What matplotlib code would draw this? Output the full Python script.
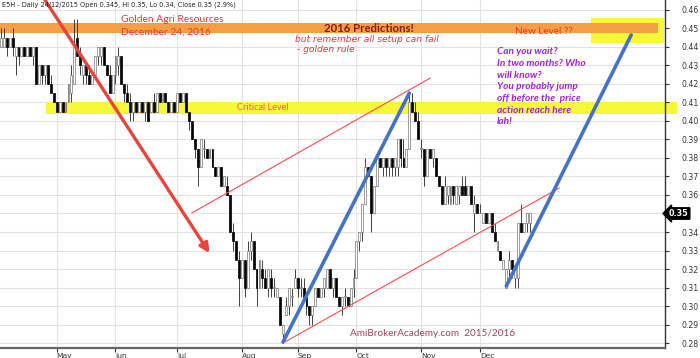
import numpy as np
import pandas as pd
import matplotlib
matplotlib.use("Agg")
import matplotlib.pyplot as plt
from matplotlib.patches import Rectangle

# ---------------- data (prices in cents) ----------------
open_c = [44.0,44.0,44.5,44.0,44.5,43.5,44.0,43.5,44.0,43.5,44.0,43.5,44.0,42.0,43.0,42.5,43.0,42.0,41.5,41.0,
          40.5,41.0,40.5,41.0,41.5,42.0,44.5,43.5,42.5,43.0,42.5,42.0,42.5,43.5,43.5,44.0,43.0,42.5,41.5,42.5,
          43.0,43.5,42.0,41.5,41.0,40.5,41.0,40.5,41.0,40.5,41.0,40.5,41.0,40.5,41.5,41.0,41.5,41.0,40.5,41.0,
          40.5,41.5,41.0,41.5,40.5,40.0,39.0,38.5,37.5,38.5,38.5,38.0,38.5,37.5,37.0,37.5,36.5,36.5,36.0,34.0,
          33.5,32.5,31.5,32.5,31.0,33.0,33.5,32.0,31.0,32.0,31.5,31.0,31.5,31.0,30.5,30.5,28.5,29.5,30.0,30.5,
          31.0,31.5,31.0,31.0,30.5,30.0,29.5,30.0,31.0,30.5,31.0,31.0,32.0,31.0,31.5,30.5,30.0,30.5,30.5,30.0,
          31.0,31.5,33.5,34.0,35.5,37.5,37.0,35.0,36.5,38.0,37.5,38.0,37.5,38.0,37.5,37.5,39.0,38.0,37.5,38.5,
          41.0,40.5,40.0,38.5,38.5,37.0,38.5,38.0,38.0,37.0,36.5,35.5,36.0,35.5,36.5,35.5,36.0,36.5,36.5,36.0,
          36.5,35.0,35.5,35.0,34.5,35.0,34.5,35.0,34.0,33.0,33.0,32.0,31.0,32.0,32.5,31.5,31.5,34.5,34.0,34.5,
          34.5]
high_c = [45.0,45.0,44.5,44.5,45.0,44.0,44.0,44.0,44.0,44.0,44.0,44.0,44.0,43.0,43.0,43.0,43.0,42.5,41.5,41.0,
          41.0,41.0,41.0,42.0,43.0,45.5,45.5,44.0,43.0,43.0,43.0,42.5,43.5,44.0,44.0,44.0,43.0,43.0,42.5,43.5,
          44.0,43.5,42.0,42.0,41.5,41.0,41.0,41.0,41.0,41.0,41.0,41.0,41.5,41.5,41.5,41.5,41.5,41.0,41.0,41.0,
          41.5,41.5,41.5,41.5,40.5,40.0,39.0,38.5,39.0,39.0,38.5,38.5,38.5,37.5,37.5,37.5,37.0,37.0,36.0,34.5,
          33.5,33.0,32.5,32.5,33.5,34.0,33.5,32.0,32.5,32.5,32.0,32.0,32.0,31.5,31.0,30.5,29.0,30.5,31.0,31.0,
          32.0,31.5,31.5,31.5,30.5,30.0,30.0,31.0,31.0,31.0,31.5,32.0,32.0,31.5,31.5,30.5,30.5,31.0,30.5,31.0,
          32.0,33.5,34.0,35.5,38.0,37.5,37.0,36.5,38.0,38.0,38.0,38.0,38.0,38.0,38.0,39.0,39.0,39.0,38.5,41.5,
          41.5,41.0,40.5,39.0,38.5,38.5,38.5,38.5,38.0,37.0,36.5,37.0,36.5,36.5,36.5,36.5,36.5,37.0,37.0,36.5,
          36.5,36.0,35.5,35.5,35.0,35.0,35.0,35.0,34.5,33.5,33.0,32.5,32.0,33.0,32.5,32.0,34.5,35.5,34.5,35.0,
          35.0]
low_c = [44.0,44.0,43.5,44.0,43.5,42.5,43.0,43.5,43.5,43.5,43.5,43.0,42.0,42.0,42.0,42.0,42.0,41.5,41.0,40.5,
         40.5,40.5,40.5,41.0,41.0,42.0,43.5,42.5,42.0,42.0,42.0,42.0,42.5,43.0,43.0,43.0,42.5,41.5,41.5,42.0,
         42.5,42.0,41.0,41.0,40.0,40.0,40.5,40.5,40.5,40.0,40.0,40.5,40.5,40.5,41.0,41.0,41.0,40.5,40.5,40.5,
         40.5,41.0,41.0,40.5,39.5,39.0,38.0,36.5,37.5,38.0,38.0,38.0,37.5,37.0,37.0,36.5,36.5,36.0,34.0,33.0,
         32.5,30.0,31.5,30.5,31.0,32.5,32.0,30.0,31.0,31.0,31.0,30.5,30.5,30.5,30.5,29.0,28.0,29.5,29.5,30.0,
         31.0,30.5,30.5,30.5,29.5,29.0,29.0,30.0,30.5,30.5,30.5,31.0,31.0,30.5,30.5,30.0,29.5,30.0,30.0,30.0,
         30.5,31.5,33.0,33.5,35.5,37.0,34.0,35.0,36.5,37.5,37.0,37.0,37.0,37.0,37.0,37.0,37.5,37.5,37.5,38.5,
         40.5,40.0,39.0,38.0,36.5,37.0,38.0,37.5,37.0,36.5,35.5,35.5,35.5,35.5,35.5,35.5,35.5,36.0,36.0,36.0,
         35.5,34.0,35.0,35.0,34.5,34.5,34.5,34.0,33.5,33.0,32.5,32.0,31.0,31.5,31.5,31.0,31.0,34.0,34.0,34.0,
         34.0]
close_c = [44.5,44.5,44.0,44.5,44.0,44.0,43.5,44.0,43.5,44.0,43.5,44.0,42.0,43.0,42.5,43.0,42.0,41.5,41.0,40.5,
           41.0,40.5,41.0,42.0,42.5,44.0,43.5,43.0,43.0,42.5,42.0,42.5,43.5,44.0,44.0,43.0,42.5,41.5,42.5,43.5,
           43.5,42.0,41.5,41.0,40.5,41.0,40.5,41.0,40.5,41.0,40.0,41.0,40.5,41.5,41.0,41.5,41.0,40.5,41.0,40.5,
           41.5,41.0,41.5,40.5,40.0,39.0,38.5,37.5,39.0,38.5,38.0,38.5,37.5,37.0,37.5,36.5,37.0,36.0,34.0,33.5,
           32.5,31.5,32.5,31.0,33.0,33.5,32.0,31.0,32.5,31.5,31.0,32.0,31.0,31.0,31.0,29.0,29.0,30.0,31.0,30.5,
           31.5,31.0,31.0,30.5,30.0,29.5,30.0,31.0,30.5,31.0,31.5,32.0,31.0,31.5,30.5,30.0,30.5,30.5,30.0,31.0,
           31.5,33.5,34.0,35.5,37.5,37.0,35.0,36.5,38.0,37.5,38.0,37.5,38.0,37.5,38.0,39.0,38.0,37.5,38.5,41.0,
           40.5,40.0,39.0,38.5,37.0,38.5,38.0,38.5,37.0,36.5,35.5,36.5,36.5,36.5,36.0,36.5,36.5,36.0,36.0,36.5,
           35.5,35.5,35.0,35.0,35.0,34.5,35.0,34.0,33.5,33.5,32.5,32.5,32.0,32.5,32.0,32.0,34.5,34.0,34.5,35.0,
           35.0]

holidays = ["2015-05-01", "2015-06-01", "2015-07-17", "2015-08-07", "2015-08-10",
            "2015-09-11", "2015-09-24", "2015-11-10"]
month_labels = ["May", "Jun", "Jul", "Aug", "Sep", "Oct", "Nov", "Dec"]
price_ticks = [0.28, 0.29, 0.30, 0.31, 0.32, 0.33, 0.34, 0.35, 0.36, 0.37,
               0.38, 0.39, 0.40, 0.41, 0.42, 0.43, 0.44, 0.45, 0.46]
last_price = 0.35

# annotation levels (price) and trend lines (bar index, price)
critical_level = (0.4038, 0.4103)
orange_band = (0.4476, 0.4528)
new_level_box = (0.4422, 0.4557)
red_arrow = [(15.0, 0.4654), (71.0, 0.3286)]
blue_lines = [[(96.0, 0.2805), (139.0, 0.4151)], [(172.0, 0.3108), (214.5, 0.4465)]]
red_lines = [[(65.0, 0.3503), (146.1, 0.4232)], [(96.0, 0.2800), (190.0, 0.3638)]]

# ---------------- prep ----------------
o = np.array(open_c) / 100
h = np.array(high_c) / 100
l = np.array(low_c) / 100
c = np.array(close_c) / 100
n = len(c)
x = np.arange(n)
dates = pd.bdate_range("2015-04-06", "2015-12-24", freq="C", holidays=holidays)[:n]
month_pos = []
for m in range(5, 13):
    idx = np.where(dates.month == m)[0]
    month_pos.append(idx[0] if len(idx) else np.nan)

W, H = 700, 358
fig = plt.figure(figsize=(W / 100, H / 100), dpi=100)
ax = fig.add_axes([0, 10 / H, 665 / W, 348 / H])
ax.set_xlim(-0.3, 226)
ax.set_ylim(0.2773, 0.4654)

# grid
for p in price_ticks:
    ax.axhline(p, color="#e2e2e2", lw=0.8, zorder=0)
for mp in month_pos:
    ax.axvline(mp, color="#e2e2e2", lw=0.8, zorder=0)

# bands
ax.add_patch(Rectangle((15.3, critical_level[0]), 230 - 15.3, critical_level[1] - critical_level[0],
                       facecolor="#f7f73a", edgecolor="none", zorder=1, clip_on=False))
ax.add_patch(Rectangle((200.8, new_level_box[0]), 225.5 - 200.8, new_level_box[1] - new_level_box[0],
                       facecolor="#f7f73a", edgecolor="none", zorder=1))
ax.add_patch(Rectangle((-1, orange_band[0]), 223.5 + 1, orange_band[1] - orange_band[0],
                       facecolor="#f59f45", edgecolor="none", zorder=1.5))

# candles
up = c >= o
ax.vlines(x, l, h, color="#222222", lw=0.6, zorder=3)
body_lo = np.minimum(o, c)
body_h = np.maximum(np.abs(c - o), 0.0004)
ax.bar(x[up], body_h[up], bottom=body_lo[up], width=0.65, color="white",
       edgecolor="#777777", lw=0.5, zorder=4)
ax.bar(x[~up], body_h[~up], bottom=body_lo[~up], width=0.65, color="black",
       edgecolor="black", lw=0.5, zorder=4)

# trend lines
for (x0, y0), (x1, y1) in red_lines:
    ax.plot([x0, x1], [y0, y1], color="#ff4d4d", lw=0.8, zorder=5)
for (x0, y0), (x1, y1) in blue_lines:
    ax.plot([x0, x1], [y0, y1], color="#4472c4", lw=2.6, zorder=6, solid_capstyle="round")
ax.annotate("", xy=red_arrow[1], xytext=red_arrow[0],
            arrowprops=dict(arrowstyle="-|>", color="#e8443a", lw=2.4, mutation_scale=14,
                            shrinkA=0, shrinkB=0), zorder=6, annotation_clip=False)

# axes styling
for s in ["left", "top"]:
    ax.spines[s].set_visible(False)
ax.spines["right"].set_color("#333333")
ax.spines["right"].set_linewidth(1.0)
ax.spines["bottom"].set_color("#666666")
ax.spines["bottom"].set_linewidth(1.6)
ax.yaxis.tick_right()
ax.set_yticks(price_ticks)
ax.set_yticklabels(["" if abs(p - last_price) < 1e-9 else f"{p:.2f}" for p in price_ticks],
                   fontsize=5.6, color="#333333")
ax.tick_params(axis="y", length=3, width=0.8, color="#333333", pad=9)
ax.set_xticks(month_pos)
ax.set_xticklabels(month_labels, fontsize=5.4, color="#333333", ha="left")
ax.tick_params(axis="x", length=3, width=0.8, color="#333333", pad=0.5)

# last price marker
ax.text(1.006, last_price, f"{last_price:.2f}", transform=ax.get_yaxis_transform(),
        fontsize=5.8, color="white", fontweight="bold", va="center", ha="left", zorder=10,
        bbox=dict(boxstyle="larrow,pad=0.15", fc="black", ec="black"))

# texts (figure pixel coordinates)
def ft(px, py, s, **kw):
    fig.text(px / W, 1 - py / H, s, **kw)

ft(2, 5, "E5H - Daily 24/12/2015 Open 0.345, Hi 0.35, Lo 0.34, Close 0.35 (2.9%)",
   fontsize=4.7, color="#222222", va="center")
ft(121, 19, "Golden Agri Resources", fontsize=7.4, color="#ee3333", va="center", family="Lato")
ft(121, 32, "December 24, 2016", fontsize=7.4, color="#ee3333", va="center", family="Lato")
ft(369, 28, "2016 Predictions!", fontsize=8.2, color="#8b1a1a", fontweight="bold", va="center",
   ha="center", family="Lato")
ft(295, 40, "but remember all setup can fail", fontsize=6.6, color="#ee3333", style="italic", va="center")
ft(297, 50, "- golden rule", fontsize=6.6, color="#ee3333", style="italic", va="center")
ft(515, 32, "New Level ??", fontsize=7.2, color="#ee3333", va="center", ha="left", family="Lato")
ft(237, 107, "Critical Level", fontsize=6.6, color="#ff5a5a", va="center", family="Lato")
purple = ["Can you wait?", "In two months? Who", "will know?", "You probably jump",
          "off before the  price", "action reach here", "lah!"]
for k, s in enumerate(purple):
    ft(497, 52 + k * 11.6, s, fontsize=7.3, color="#a020e0", fontweight="bold",
       style="italic", va="center", family="Lato")
ft(350, 334, "AmiBrokerAcademy.com  2015/2016", fontsize=7.2, color="#a8405a", va="center", family="Lato")

fig.savefig("out.png", dpi=100)
